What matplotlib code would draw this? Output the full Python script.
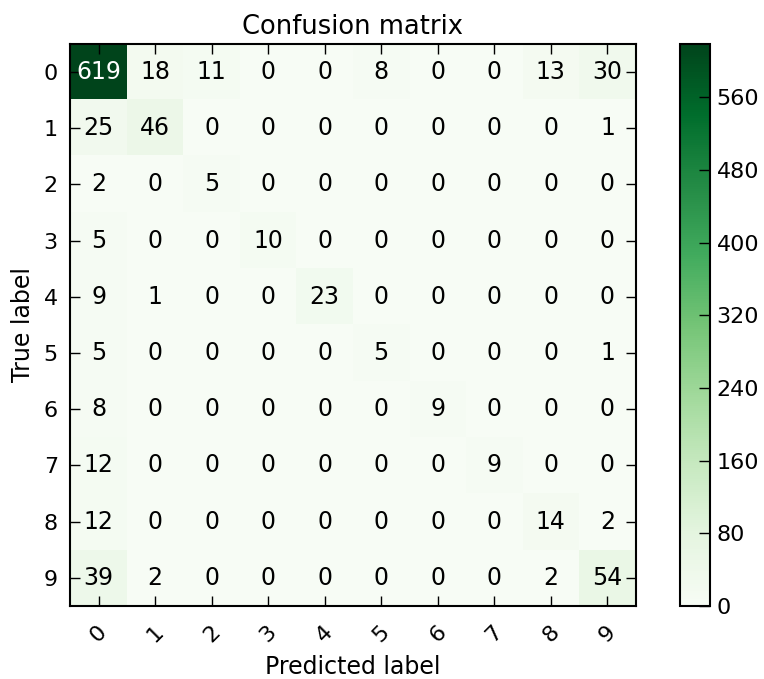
import numpy as np
import matplotlib
matplotlib.use("Agg")
import matplotlib.pyplot as plt

classes = ['0', '1', '2', '3', '4', '5', '6', '7', '8', '9']
cm = np.array([
    [619, 18, 11, 0, 0, 8, 0, 0, 13, 30],
    [25, 46, 0, 0, 0, 0, 0, 0, 0, 1],
    [2, 0, 5, 0, 0, 0, 0, 0, 0, 0],
    [5, 0, 0, 10, 0, 0, 0, 0, 0, 0],
    [9, 1, 0, 0, 23, 0, 0, 0, 0, 0],
    [5, 0, 0, 0, 0, 5, 0, 0, 0, 1],
    [8, 0, 0, 0, 0, 0, 9, 0, 0, 0],
    [12, 0, 0, 0, 0, 0, 0, 9, 0, 0],
    [12, 0, 0, 0, 0, 0, 0, 0, 14, 2],
    [39, 2, 0, 0, 0, 0, 0, 0, 2, 54],
])
cbar_ticks = [0, 80, 160, 240, 320, 400, 480, 560]

fig = plt.figure(figsize=(7.64, 6.79), dpi=100)
ax = fig.add_axes([0.092, 0.1075, 0.74, 0.828])
cax = fig.add_axes([0.89, 0.1075, 0.039, 0.828])

im = ax.imshow(cm, interpolation='nearest', cmap=plt.cm.Greens, aspect='auto')
ax.set_title('Confusion matrix', fontsize=18.5, pad=7)

cb = fig.colorbar(im, cax=cax, ticks=cbar_ticks)
cb.ax.tick_params(direction='in', length=8, width=1, labelsize=16, pad=5)
cb.outline.set_linewidth(1.5)

ticks = np.arange(len(classes))
ax.set_xticks(ticks)
ax.set_xticklabels(classes, rotation=45, fontsize=16)
ax.set_yticks(ticks)
ax.set_yticklabels(classes, fontsize=16)
ax.tick_params(direction='in', length=7, width=1, top=True, right=True)
ax.tick_params(axis='x', pad=11)
ax.tick_params(axis='y', pad=9)
for s in ax.spines.values():
    s.set_linewidth(1.5)

thresh = cm.max() / 2.
for i in range(cm.shape[0]):
    for j in range(cm.shape[1]):
        ax.text(j, i, cm[i, j], ha='center', va='center', fontsize=17,
                color='white' if cm[i, j] > thresh else 'black')

ax.set_ylabel('True label', fontsize=17, labelpad=6)
ax.set_xlabel('Predicted label', fontsize=17, labelpad=7)

fig.savefig('out.png', dpi=100)
